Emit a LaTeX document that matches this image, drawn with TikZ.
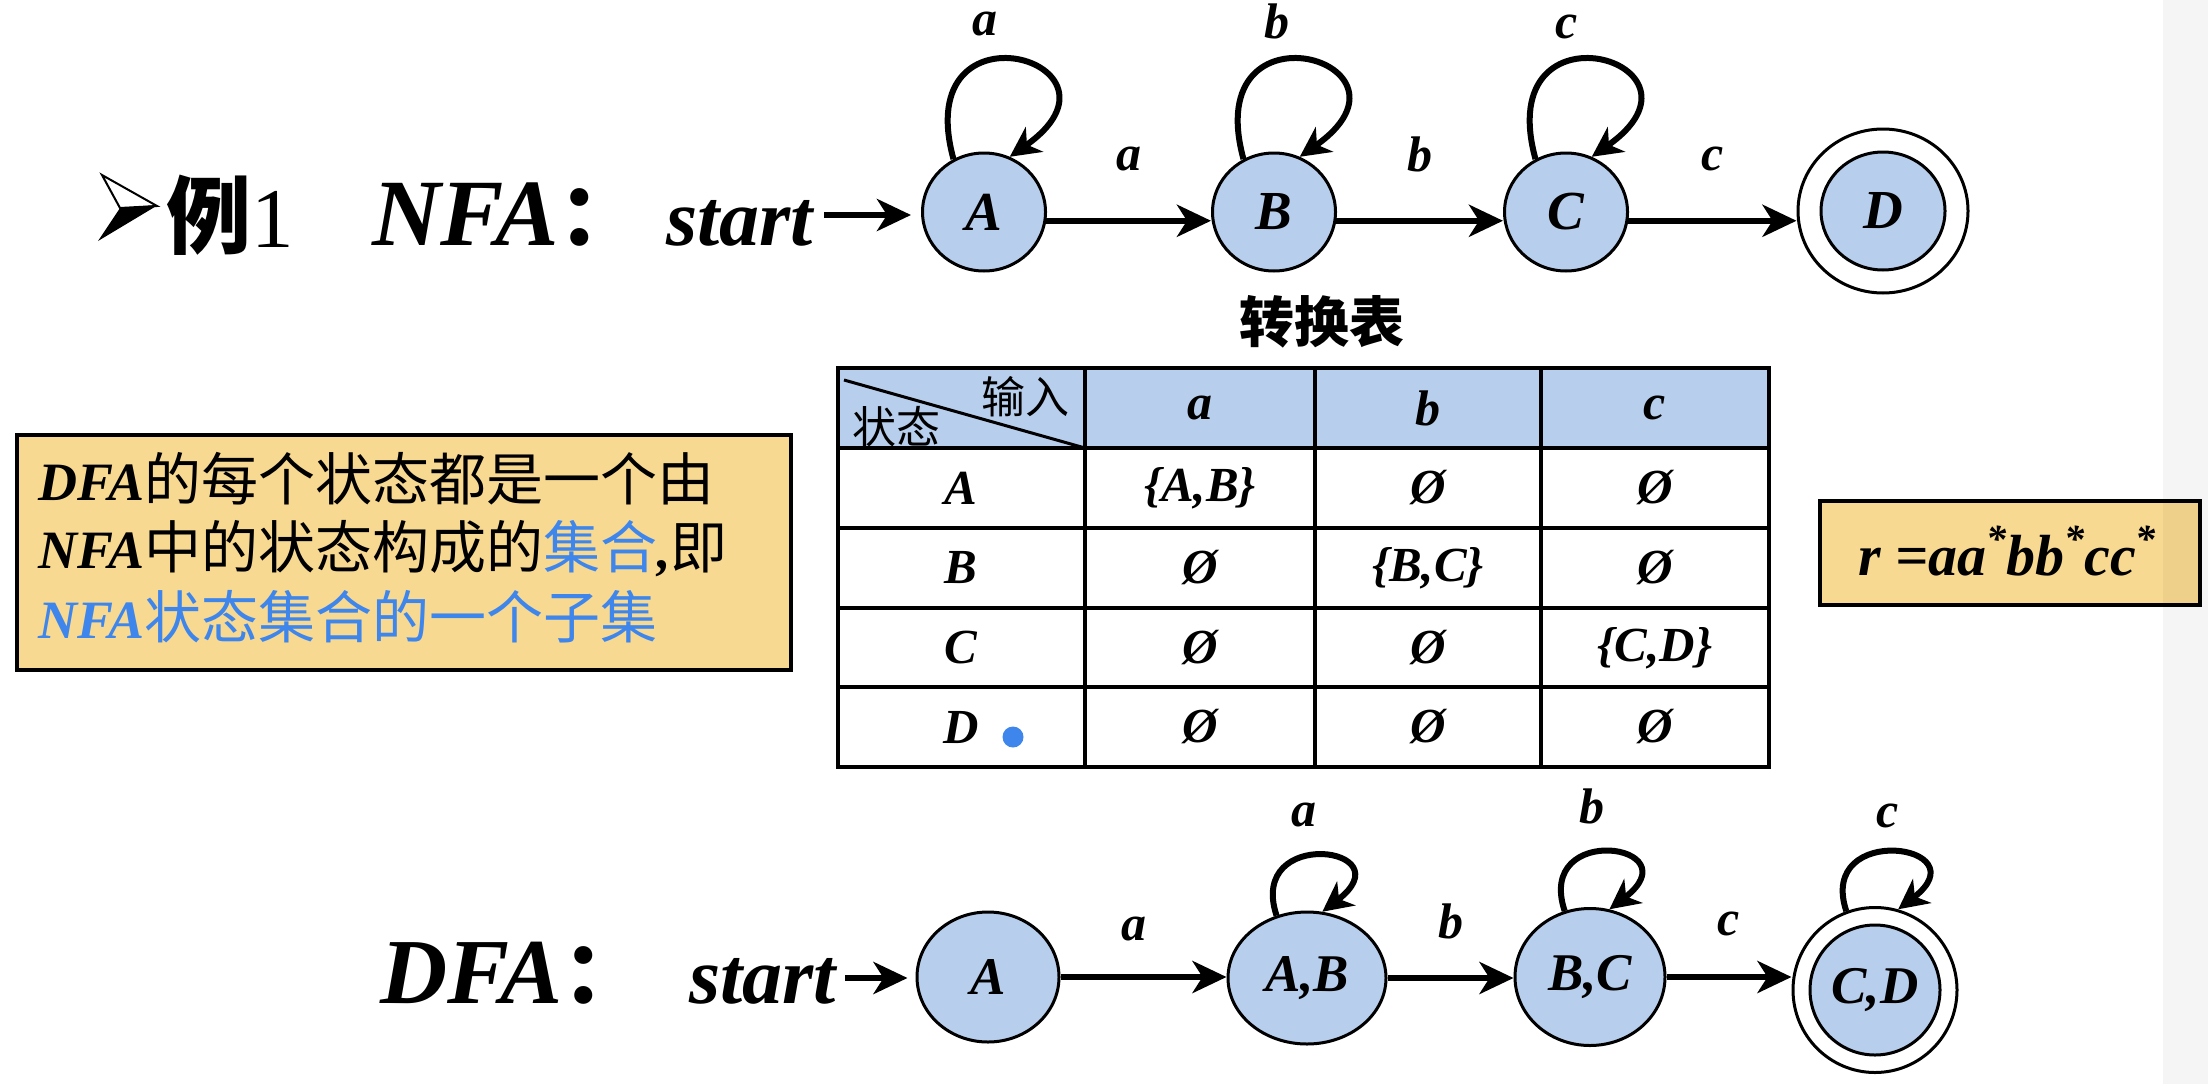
\documentclass[tikz,border=0pt]{standalone}
\usepackage{fontspec}
\setmainfont{Liberation Serif}
\newfontfamily\tnr{Liberation Serif}
\newfontfamily\cjk{Noto Sans CJK SC}
\usetikzlibrary{arrows.meta,shapes.geometric}
\definecolor{nodefill}{RGB}{183,206,236}
\definecolor{notefill}{RGB}{248,217,145}
\definecolor{hlblue}{RGB}{62,134,236}
\newcommand{\fsz}[1]{\fontsize{#1}{#1}\selectfont}
\newcommand{\bitf}{\tnr\bfseries\itshape}
\tikzset{
  stnode/.style={ellipse, draw=black, line width=3pt, fill=nodefill, inner sep=0pt, font=\fsz{55}\bitf},
  finalring/.style={ellipse, draw=black, line width=3pt, fill=white, inner sep=0pt},
  trans/.style={-{Stealth[length=34pt,width=32pt,inset=10pt]}, line width=6.5pt},
  selfloop/.style={-{Stealth[length=30pt,width=30pt,inset=9pt]}, line width=6pt, line join=round},
  lbl/.style={font=\fsz{50}\bitf, inner sep=0pt},
  cell/.style={font=\fsz{49}\bitf, inner sep=0pt},
  tline/.style={line width=4pt},
  cjkhead/.style={font=\fsz{44}\cjk, inner sep=0pt},
}
\begin{document}
\begin{tikzpicture}[x=1pt,y=1pt]
\useasboundingbox (0,0) rectangle (2208,-1084);
\fill[white] (0,0) rectangle (2208,-1084);

% ---------- title bullet ----------
\draw[line width=2pt, fill=white, line join=miter] (102,-175) -- (157,-206) -- (120,-208) -- cycle;
\fill[black] (120,-208) -- (158,-205) -- (98,-241) -- cycle;
\node[anchor=base west, inner sep=0pt, font=\fsz{85}] (ex) at (166,-247) {{\cjk\bfseries 例}{\tnr 1}};
\node[anchor=base west, inner sep=0pt, font=\fsz{95}\bitf] (nfat) at (372,-245) {NFA{\cjk\bfseries\fsz{85}：}};
\node[anchor=base west, inner sep=0pt, font=\fsz{80}\bitf] (st1) at (666,-245) {start};

% ---------- NFA ----------
\node[stnode, minimum width=123pt, minimum height=118pt] (A1) at (984,-212) {A};
\node[stnode, minimum width=123pt, minimum height=118pt] (B1) at (1274,-212) {B};
\node[stnode, minimum width=123pt, minimum height=118pt] (C1) at (1566,-212) {C};
\node[finalring, minimum width=170pt, minimum height=164pt] (D1o) at (1883,-211) {};
\node[stnode, minimum width=124pt, minimum height=118pt] (D1) at (1883,-211) {D};

\coordinate (s1) at (824,-215);
\draw[trans, shorten >=10pt] (s1) -- (s1 -| A1.west);
\draw[trans] (A1.-8) -- (A1.-8 -| B1.west) node[lbl, midway, yshift=62pt] {a};
\draw[trans] (B1.-8) -- (B1.-8 -| C1.west) node[lbl, midway, yshift=66pt] {b};
\draw[trans] (C1.-8) -- (C1.-8 -| D1o.west) node[lbl, midway, yshift=62pt] {c};

\draw[selfloop] (A1.120) .. controls +(-45,165) and +(135,95) .. (A1.65) node[lbl, pos=0.4, xshift=-8pt, yshift=36pt] {a};
\draw[selfloop] (B1.120) .. controls +(-45,165) and +(135,95) .. (B1.65) node[lbl, pos=0.4, xshift=-6pt, yshift=38pt] {b};
\draw[selfloop] (C1.120) .. controls +(-45,165) and +(135,95) .. (C1.65) node[lbl, pos=0.4, xshift=-8pt, yshift=33pt] {c};

% ---------- transition table ----------
\node[inner sep=0pt, font=\fsz{55}\cjk\bfseries] (ttl) at (1322,-322) {转换表};
\fill[nodefill] (838,-368) rectangle (1769,-448);
\draw[tline] (838,-368) rectangle (1769,-767);
\foreach \x in {1085,1315,1541} \draw[tline] (\x,-368) -- (\x,-767);
\foreach \y in {448,528,608,687} \draw[tline] (838,-\y) -- (1769,-\y);
\draw[line width=3pt] (844,-380) -- (1085,-448);
\node[cjkhead] (hin) at (1025,-397) {输入};
\node[cjkhead] (hst) at (896,-427) {状态};
\node[cell, font=\fsz{50}\bitf] (ha) at (1200,-408) {a};
\node[cell, font=\fsz{50}\bitf] (hb) at (1428,-408) {b};
\node[cell, font=\fsz{50}\bitf] (hc) at (1655,-408) {c};

\node[cell] (rA) at (961,-488) {A};
\node[cell] (rAa) at (1200,-488) {\{A,B\}};
\node[cell] (rAb) at (1428,-488) {Ø};
\node[cell] (rAc) at (1655,-488) {Ø};

\node[cell] (rB) at (961,-568) {B};
\node[cell] (rBa) at (1200,-568) {Ø};
\node[cell] (rBb) at (1428,-568) {\{B,C\}};
\node[cell] (rBc) at (1655,-568) {Ø};

\node[cell] (rC) at (961,-648) {C};
\node[cell] (rCa) at (1200,-648) {Ø};
\node[cell] (rCb) at (1428,-648) {Ø};
\node[cell] (rCc) at (1655,-648) {\{C,D\}};

\node[cell] (rD) at (961,-727) {D};
\node[cell] (rDa) at (1200,-727) {Ø};
\node[cell] (rDb) at (1428,-727) {Ø};
\node[cell] (rDc) at (1655,-727) {Ø};
\node[circle, fill=hlblue, inner sep=0pt, minimum size=21pt] (dot) at (1013,-737) {};

% ---------- note box ----------
\node[draw=black, line width=3.5pt, fill=notefill, minimum width=774pt, minimum height=235pt, anchor=north west, inner sep=0pt] (note) at (15,-433) {};
\node[anchor=base west, inner sep=0pt] (l1) at (38,-500) {{\fsz{54}\bitf DFA}{\fsz{57}\cjk 的每个状态都是一个由}};
\node[anchor=base west, inner sep=0pt] (l2) at (38,-568) {{\fsz{54}\bitf NFA}{\fsz{57}\cjk 中的状态构成的}{\fsz{57}\cjk\color{hlblue}集合}{\fsz{54}\bitf ,}{\fsz{57}\cjk 即}};
\node[anchor=base west, inner sep=0pt, text=hlblue] (l3) at (38,-638) {{\fsz{54}\bitf NFA}{\fsz{57}\cjk 状态集合的一个子集}};

% ---------- regex box ----------
\node[draw=black, line width=3.5pt, fill=notefill, minimum width=380pt, minimum height=104pt, anchor=north west, inner sep=0pt] (rbox) at (1818,-499) {};
\node[anchor=base, inner sep=0pt, font=\fsz{58}\bitf] (rtext) at (2007,-575) {r =aa\raisebox{0.38em}{\fsz{40}*}bb\raisebox{0.38em}{\fsz{40}*}cc\raisebox{0.38em}{\fsz{40}*}};

% ---------- DFA ----------
\node[anchor=base west, inner sep=0pt, font=\fsz{93}\bitf] (dfat) at (380,-1003) {DFA{\cjk\bfseries\fsz{85}：}};
\node[anchor=base west, inner sep=0pt, font=\fsz{80}\bitf] (st2) at (689,-1003) {start};

\node[stnode, font=\fsz{53}\bitf, minimum width=142pt, minimum height=130pt] (A2) at (988,-977) {A};
\node[stnode, font=\fsz{53}\bitf, minimum width=158pt, minimum height=132pt] (AB) at (1307,-978) {A,B};
\node[stnode, font=\fsz{53}\bitf, minimum width=150pt, minimum height=137pt] (BC) at (1590,-977) {B,C};
\node[finalring, minimum width=164pt, minimum height=165pt] (CDo) at (1875,-990) {};
\node[stnode, font=\fsz{53}\bitf, minimum width=130pt, minimum height=130pt] (CD) at (1875,-990) {C,D};

\coordinate (s2) at (845,-978);
\draw[trans, shorten >=8pt] (s2) -- (s2 -| A2.west);
\draw[trans] (A2.east) -- (A2.east -| AB.west) node[lbl, midway, xshift=-10pt, yshift=48pt] {a};
\draw[trans] (AB.east) -- (AB.east -| BC.west) node[lbl, midway, yshift=57pt] {b};
\draw[trans] (BC.east) -- (BC.east -| CDo.west) node[lbl, midway, yshift=53pt] {c};

\draw[selfloop] (AB.116) .. controls +(-30,90) and +(85,65) .. (AB.77) node[lbl, pos=0.4, yshift=42pt] {a};
\draw[selfloop] (BC.111) .. controls +(-30,90) and +(85,65) .. (BC.74) node[lbl, pos=0.4, yshift=46pt] {b};
\draw[selfloop] (CDo.110) .. controls +(-30,90) and +(85,65) .. (CDo.74) node[lbl, pos=0.4, xshift=12pt, yshift=37pt] {c};

% ---------- right edge shading ----------
\fill[black, opacity=0.04] (2163,0) rectangle (2208,-1084);
\end{tikzpicture}
\end{document}
